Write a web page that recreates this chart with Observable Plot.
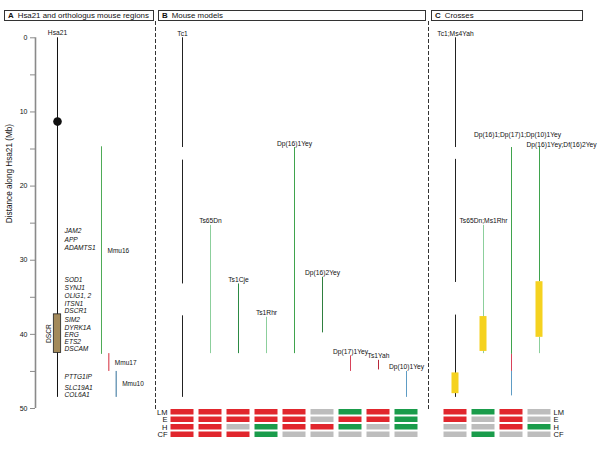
<!DOCTYPE html>
<html><head><meta charset="utf-8">
<script src="https://cdn.jsdelivr.net/npm/d3@7"></script>
<script src="https://cdn.jsdelivr.net/npm/@observablehq/plot@0.6"></script>
<style>
body{margin:0;background:#fff;font-family:"Liberation Sans",Arial,sans-serif;}
#root{position:relative;width:599px;height:454px;overflow:hidden;background:#fff}
.box{position:absolute}
.hdr{position:absolute;top:10px;height:11px;border:1px solid #333;box-sizing:border-box;font-size:7.9px;line-height:9px;padding-left:3px;white-space:nowrap;color:#111}
.hdr b{font-weight:bold;margin-right:4px}
.dash{position:absolute;top:21px;height:388px;width:1px;background:repeating-linear-gradient(to bottom,#333 0 4px,transparent 4px 6px)}
</style></head>
<body><div id="root">
<div class="hdr" style="left:4px;width:150px"><b>A</b>Hsa21 and orthologus mouse regions</div>
<div class="hdr" style="left:158px;width:268px"><b>B</b>Mouse models</div>
<div class="hdr" style="left:431px;width:152px"><b>C</b>Crosses</div>
<div class="dash" style="left:155px"></div>
<div class="dash" style="left:428px"></div>
</div>
<script>
// ---------- Panel A: Hsa21 and orthologous mouse regions ----------
const hsaLength = 48.5;
const centromere = 11.3;
const dscrRegion = [37.3, 42.5];
const mmuChrom = ["Mmu16", "Mmu17", "Mmu10"];
const mmuStart = [14.7, 42.6, 45.0];
const mmuEnd = [42.7, 45.0, 48.5];
const mmuColors = ["#4caa55", "#d42a3a", "#2e6e98"];
const genes = ["JAM2","APP","ADAMTS1","SOD1","SYNJ1","OLIG1, 2","ITSN1","DSCR1","SIM2","DYRK1A","ERG","ETS2","DSCAM","PTTG1IP","SLC19A1","COL6A1"];
const geneMb = [26.1,27.3,28.3,32.7,33.7,34.8,35.9,36.8,38.1,39.1,40.1,41.0,41.9,45.7,47.2,48.2];

// ---------- Panel B: mouse models ----------
const models = ["Tc1","Ts65Dn","Ts1Cje","Ts1Rhr","Dp(16)1Yey","Dp(16)2Yey","Dp(17)1Yey","Ts1Yah","Dp(10)1Yey"];
const modelColors = ["#222222","#8ccf9c","#2c8a44","#8ccf9c","#3fa34d","#2f7f3f","#d8425a","#b8283a","#5e9cc4"];
const segModel = ["Tc1","Tc1","Tc1","Ts65Dn","Ts1Cje","Ts1Rhr","Dp(16)1Yey","Dp(16)2Yey","Dp(17)1Yey","Ts1Yah","Dp(10)1Yey"];
const segStart = [0, 16.5, 37.5, 25.3, 33.2, 37.7, 14.8, 32.3, 42.9, 43.5, 45.0];
const segEnd   = [14.8, 33.2, 48.5, 42.6, 42.6, 42.6, 42.6, 39.8, 45.0, 44.8, 48.5];

// ---------- Panel C: crosses ----------
const crosses = ["Tc1;Ms4Yah","Ts65Dn;Ms1Rhr","Dp(16)1;Dp(17)1;Dp(10)1Yey","Dp(16)1Yey;Df(16)2Yey"];
const cSegCross  = ["Tc1;Ms4Yah","Tc1;Ms4Yah","Tc1;Ms4Yah","Ts65Dn;Ms1Rhr","Dp(16)1;Dp(17)1;Dp(10)1Yey","Dp(16)1;Dp(17)1;Dp(10)1Yey","Dp(16)1;Dp(17)1;Dp(10)1Yey","Dp(16)1Yey;Df(16)2Yey","Dp(16)1Yey;Df(16)2Yey"];
const cSegSource = ["Tc1","Tc1","Tc1","Ts65Dn","Dp(16)1Yey","Dp(17)1Yey","Dp(10)1Yey","Dp(16)1Yey","Ts1Rhr"];
const cSegStart  = [0, 16.4, 37.4, 25.3, 14.8, 42.7, 45.0, 14.8, 40.4];
const cSegEnd    = [14.8, 33.0, 48.5, 42.6, 42.7, 45.0, 48.3, 32.9, 42.6];
const delCross = ["Tc1;Ms4Yah","Ts65Dn;Ms1Rhr","Dp(16)1Yey;Df(16)2Yey"];
const delStart = [45.2, 37.6, 32.9];
const delEnd   = [48.0, 42.3, 40.4];

// ---------- Phenotypes (LM, E, H, CF) ----------
const phenotypes = ["LM","E","H","CF"];
const modelPheno = [
  ["yes","yes","yes","yes"],
  ["yes","yes","yes","yes"],
  ["yes","yes","na","yes"],
  ["yes","yes","no","no"],
  ["yes","yes","yes","na"],
  ["na","na","yes","na"],
  ["no","yes","no","na"],
  ["yes","yes","na","na"],
  ["no","no","no","na"]
];
const crossPheno = [
  ["yes","yes","na","na"],
  ["no","na","na","no"],
  ["yes","yes","yes","na"],
  ["na","na","no","na"]
];
const statusDomain = ["yes","no","na"];
const statusColors = ["#e1262d","#1a9c4b","#bdbdbd"];
const yellow = "#f5d21f";

const FONT = '"Liberation Sans", Arial, sans-serif';
const style = {fontFamily: FONT, fontSize: "6.7px", background: "transparent", overflow: "visible", color: "#111"};
const root = document.getElementById("root");
function place(el, left, top) {
  const d = document.createElement("div");
  d.className = "box";
  d.style.left = left + "px"; d.style.top = top + "px";
  d.appendChild(el); root.appendChild(d);
}
const MAIN_TOP = 20, MAIN_H = 393, M_TOP = 17.3, M_BOT = 5;
const yMain = {domain: [0, 50], reverse: true, axis: null};

// ---- Panel A
const domA = ["axis","a1","a2","Hsa21","a3","a4","a5","a6","a7","Mmu16","Mmu17","Mmu10"];
const mid = (i) => (mmuStart[i] + mmuEnd[i]) / 2;
const plotA = Plot.plot({
  width: 155, height: MAIN_H, marginTop: M_TOP, marginBottom: M_BOT, marginLeft: 35, marginRight: 0,
  x: {type: "band", domain: domA, range: [31.33, 119.33], padding: 0, round: false, axis: null},
  y: yMain,
  color: {domain: mmuChrom, range: mmuColors},
  style,
  marks: [
    Plot.ruleX(["axis"], {y1: () => 0, y2: () => 50, stroke: "#8a8a8a", strokeWidth: 1.6}),
    Plot.axisY({ticks: d3.range(0, 51, 5), tickFormat: d => d % 10 ? "" : d, tickSize: 5, tickPadding: 3,
      stroke: "#8a8a8a", fill: "#111", fontSize: 7, label: null}),
    Plot.text(["Distance along Hsa21 (Mb)"], {frameAnchor: "left", text: d => d, rotate: -90, dx: -26, fontSize: 8.2}),
    Plot.ruleX(["Hsa21"], {y1: () => 0, y2: () => hsaLength, stroke: "#111", strokeWidth: 1}),
    Plot.dot([centromere], {x: () => "Hsa21", y: d => d, r: 4.3, fill: "#111", stroke: null}),
    Plot.barY([dscrRegion], {x: () => "Hsa21", y1: d => d[0], y2: d => d[1], fill: "#a38a5b", stroke: "#222", strokeWidth: 0.8}),
    Plot.text(["DSCR"], {x: () => "Hsa21", y: () => (dscrRegion[0] + dscrRegion[1]) / 2, text: d => d, rotate: -90, dx: -9}),
    Plot.text(["Hsa21"], {x: d => d, y: () => 0, text: d => d, lineAnchor: "bottom", dy: -3}),
    Plot.text(genes, {x: () => "Hsa21", y: (d, i) => geneMb[i], text: d => d, textAnchor: "start", dx: 7, fontStyle: "italic", fontSize: 6.6}),
    Plot.ruleX(mmuChrom, {x: d => d, y1: (d, i) => mmuStart[i], y2: (d, i) => mmuEnd[i], stroke: d => d, strokeWidth: 1}),
    Plot.text(mmuChrom, {x: d => d, y: (d, i) => mid(i), text: d => d, textAnchor: "start", dx: 6, fontSize: 6.5})
  ]
});
place(plotA, 0, MAIN_TOP);

// ---- Panel B
const firstStart = (name, names, starts) => d3.min(names.map((n, i) => n === name ? starts[i] : Infinity));
const plotB = Plot.plot({
  width: 273, height: MAIN_H, marginTop: M_TOP, marginBottom: M_BOT, marginLeft: 0, marginRight: 0,
  x: {type: "band", domain: models, range: [13, 265], padding: 0, round: false, axis: null},
  y: yMain,
  color: {domain: models, range: modelColors},
  style,
  marks: [
    Plot.ruleX(segModel, {x: d => d, y1: (d, i) => segStart[i], y2: (d, i) => segEnd[i], stroke: d => d, strokeWidth: 1}),
    Plot.text(models, {x: d => d, y: d => firstStart(d, segModel, segStart), text: d => d, lineAnchor: "bottom", dy: -2})
  ]
});
place(plotB, 155, MAIN_TOP);

// ---- Panel C
const plotC = Plot.plot({
  width: 171, height: MAIN_H, marginTop: M_TOP, marginBottom: M_BOT, marginLeft: 0, marginRight: 0,
  x: {type: "band", domain: crosses, range: [13, 125], padding: 0, round: false, axis: null},
  y: yMain,
  color: {domain: models, range: modelColors},
  style,
  marks: [
    Plot.ruleX(cSegCross, {x: d => d, y1: (d, i) => cSegStart[i], y2: (d, i) => cSegEnd[i], stroke: (d, i) => cSegSource[i], strokeWidth: 1}),
    Plot.barY(delCross, {x: d => d, y1: (d, i) => delStart[i], y2: (d, i) => delEnd[i], fill: yellow, insetLeft: 10.5, insetRight: 10.5}),
    Plot.text(crosses, {filter: (d, i) => i < 2, x: d => d, y: d => firstStart(d, cSegCross, cSegStart), text: d => d, lineAnchor: "bottom", dy: -2}),
    Plot.text(crosses, {filter: (d, i) => i === 2, x: d => d, y: d => firstStart(d, cSegCross, cSegStart), text: d => d, lineAnchor: "bottom", dy: -10.5, dx: 6}),
    Plot.text(crosses, {filter: (d, i) => i === 3, x: d => d, y: d => firstStart(d, cSegCross, cSegStart), text: d => d, lineAnchor: "bottom", dy: -0.5, dx: 22})
  ]
});
place(plotC, 428, MAIN_TOP);

// ---- Phenotype grids
function cells(names, table) {
  const out = [];
  names.forEach((n, i) => phenotypes.forEach((p, j) => out.push({name: n, pheno: p, status: table[i][j]})));
  return out;
}
const GRID_TOP = 408, GRID_H = 31;
const gridB = Plot.plot({
  width: 273, height: GRID_H, marginTop: 0, marginBottom: 1, marginLeft: 13, marginRight: 0,
  x: {type: "band", domain: models, range: [13, 265], padding: 0, round: false, axis: null},
  y: {type: "band", domain: phenotypes, padding: 0, round: false, axis: null},
  color: {domain: statusDomain, range: statusColors},
  style,
  marks: [
    Plot.cell(cells(models, modelPheno), {x: "name", y: "pheno", fill: "status", insetLeft: 2.5, insetRight: 2.5, insetTop: 1, insetBottom: 1}),
    Plot.axisY({anchor: "left", tickSize: 0, tickPadding: 1, fontSize: 7.5, fill: "#111", label: null})
  ]
});
place(gridB, 155, GRID_TOP);
const gridC = Plot.plot({
  width: 171, height: GRID_H, marginTop: 0, marginBottom: 1, marginLeft: 0, marginRight: 47,
  x: {type: "band", domain: crosses, range: [13, 125], padding: 0, round: false, axis: null},
  y: {type: "band", domain: phenotypes, padding: 0, round: false, axis: null},
  color: {domain: statusDomain, range: statusColors},
  style,
  marks: [
    Plot.cell(cells(crosses, crossPheno), {x: "name", y: "pheno", fill: "status", insetLeft: 2.5, insetRight: 2.5, insetTop: 1, insetBottom: 1}),
    Plot.axisY({anchor: "right", tickSize: 0, tickPadding: 1, fontSize: 7.5, fill: "#111", label: null})
  ]
});
place(gridC, 428, GRID_TOP);
</script>
</body></html>
